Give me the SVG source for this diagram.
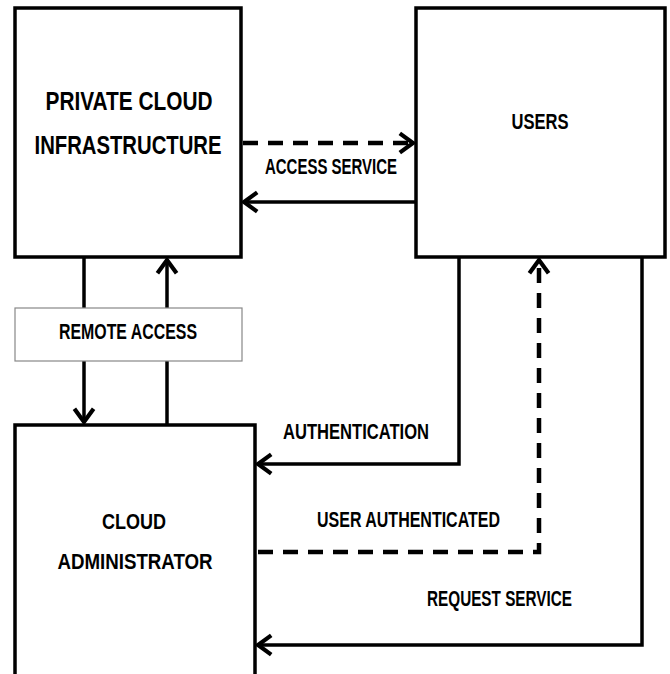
<svg xmlns="http://www.w3.org/2000/svg" width="670" height="674" viewBox="0 0 670 674">
<defs>
<style>
.box{fill:#fff;stroke:#000;stroke-width:3.5}
.thin{fill:#fff;stroke:#888;stroke-width:1.2}
.ln{fill:none;stroke:#000;stroke-width:3.5;stroke-linejoin:miter}
.dash{stroke-dasharray:15 10;stroke-width:4.5}
.t{font-family:"Liberation Sans",Arial,sans-serif;font-weight:bold;fill:#000;font-size:22px}
.big{font-size:25px}
</style>
<marker id="ah" markerUnits="userSpaceOnUse" markerWidth="24" markerHeight="24" viewBox="-14 -10 16 20" refX="0" refY="0" orient="auto">
<polyline points="-11,-8 0,0 -11,8" fill="none" stroke="#000" stroke-width="3.5"/>
</marker>
</defs>
<rect width="670" height="674" fill="#fff"/>
<g id="connectors">
<line class="ln dash" x1="243" y1="143" x2="413" y2="143" marker-end="url(#ah)"/>
<line class="ln" x1="416" y1="202" x2="244" y2="202" marker-end="url(#ah)"/>
<line class="ln" x1="84" y1="258" x2="84" y2="308"/>
<line class="ln" x1="84" y1="361" x2="84" y2="422" marker-end="url(#ah)"/>
<line class="ln" x1="167" y1="425" x2="167" y2="361"/>
<line class="ln" x1="167" y1="308" x2="167" y2="260" marker-end="url(#ah)"/>
<polyline class="ln" points="459,258 459,464 258,464" marker-end="url(#ah)"/>
<polyline class="ln dash" points="258,552 539,552 539,260" marker-end="url(#ah)"/>
<polyline class="ln" points="642,258 642,645 258,645" marker-end="url(#ah)"/>
</g>
<g id="private-cloud">
<rect class="box" x="15" y="8" width="226" height="249"/>
<text class="t big" x="129" y="110" text-anchor="middle" textLength="167" lengthAdjust="spacingAndGlyphs">PRIVATE CLOUD</text>
<text class="t big" x="128" y="154" text-anchor="middle" textLength="187" lengthAdjust="spacingAndGlyphs">INFRASTRUCTURE</text>
</g>
<g id="users">
<rect class="box" x="416" y="8" width="249" height="249"/>
<text class="t" x="540" y="129" text-anchor="middle" textLength="57" lengthAdjust="spacingAndGlyphs">USERS</text>
</g>
<g id="remote-access">
<rect class="thin" x="15" y="308" width="227" height="53"/>
<text class="t" x="128" y="339" text-anchor="middle" textLength="138" lengthAdjust="spacingAndGlyphs">REMOTE ACCESS</text>
</g>
<g id="cloud-admin">
<path class="box" d="M15,676 V425 H255 V676"/>
<text class="t" x="134" y="529" text-anchor="middle" textLength="64" lengthAdjust="spacingAndGlyphs">CLOUD</text>
<text class="t" x="135" y="569" text-anchor="middle" textLength="155" lengthAdjust="spacingAndGlyphs">ADMINISTRATOR</text>
</g>
<g id="labels">
<text class="t" x="265" y="174" textLength="132" lengthAdjust="spacingAndGlyphs">ACCESS SERVICE</text>
<text class="t" x="283" y="439" textLength="146" lengthAdjust="spacingAndGlyphs">AUTHENTICATION</text>
<text class="t" x="317" y="527" textLength="183" lengthAdjust="spacingAndGlyphs">USER AUTHENTICATED</text>
<text class="t" x="427" y="606" textLength="145" lengthAdjust="spacingAndGlyphs">REQUEST SERVICE</text>
</g>
</svg>
